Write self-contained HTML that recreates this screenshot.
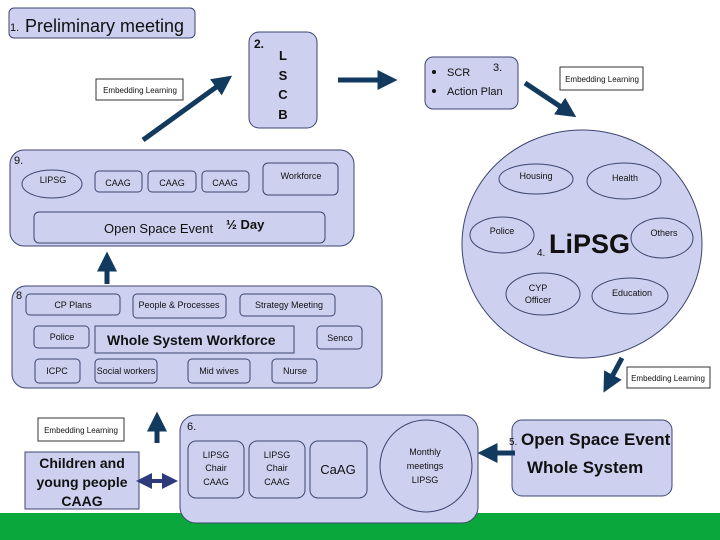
<!DOCTYPE html>
<html><head><style>
body{margin:0;background:#fff}
svg{display:block}
text{font-family:"Liberation Sans",sans-serif;fill:#111}
</style></head><body>
<svg width="720" height="540" viewBox="0 0 720 540" xmlns="http://www.w3.org/2000/svg">
<defs>
<marker id="ah" markerWidth="4" markerHeight="4" refX="2.5" refY="2" orient="auto" markerUnits="strokeWidth"><path d="M0,0 L4,2 L0,4 z" fill="#123a5e"/></marker>
<marker id="ah2" markerWidth="4" markerHeight="4" refX="2.5" refY="2" orient="auto" markerUnits="strokeWidth"><path d="M0,0 L4,2 L0,4 z" fill="#2e3a7a"/></marker>
<marker id="ah2s" markerWidth="4" markerHeight="4" refX="1.5" refY="2" orient="auto-start-reverse" markerUnits="strokeWidth"><path d="M0,0 L4,2 L0,4 z" fill="#2e3a7a"/></marker>
</defs>
<rect x="0" y="513" width="720" height="27" fill="#0aa83c"/>
<g fill="#cdd0ee" stroke="#3c4670" stroke-width="1">
<rect x="9" y="8" width="186" height="30" rx="5"/>
<rect x="249" y="32" width="68" height="96" rx="10"/>
<rect x="425" y="57" width="93" height="52" rx="8"/>
<ellipse cx="582" cy="244" rx="120" ry="114"/>
<rect x="10" y="150" width="344" height="96" rx="14"/>
<rect x="12" y="286" width="370" height="102" rx="14"/>
<rect x="180" y="415" width="298" height="108" rx="16"/>
<rect x="512" y="420" width="160" height="76" rx="10"/>
<rect x="25" y="452" width="114" height="57"/>
</g>
<g fill="none" stroke="#3c4670" stroke-width="1">
<ellipse cx="536" cy="179" rx="37" ry="15"/>
<ellipse cx="624" cy="181" rx="37" ry="18"/>
<ellipse cx="502" cy="235" rx="32" ry="18"/>
<ellipse cx="662" cy="238" rx="31" ry="20"/>
<ellipse cx="543" cy="294" rx="37" ry="21"/>
<ellipse cx="630" cy="296" rx="38" ry="18"/>
<ellipse cx="52" cy="184" rx="30" ry="14"/>
<rect x="95" y="171" width="47" height="21" rx="4"/>
<rect x="148" y="171" width="48" height="21" rx="4"/>
<rect x="202" y="171" width="47" height="21" rx="4"/>
<rect x="263" y="163" width="75" height="32" rx="5"/>
<rect x="34" y="212" width="291" height="31" rx="5"/>
<rect x="26" y="294" width="94" height="21" rx="4"/>
<rect x="133" y="294" width="93" height="24" rx="4"/>
<rect x="240" y="294" width="95" height="22" rx="4"/>
<rect x="34" y="326" width="55" height="22" rx="4"/>
<rect x="95" y="326" width="199" height="27"/>
<rect x="317" y="326" width="45" height="23" rx="4"/>
<rect x="35" y="359" width="45" height="24" rx="4"/>
<rect x="95" y="359" width="62" height="24" rx="4"/>
<rect x="188" y="359" width="62" height="24" rx="4"/>
<rect x="272" y="359" width="45" height="24" rx="4"/>
<rect x="188" y="441" width="56" height="57" rx="8"/>
<rect x="249" y="441" width="56" height="57" rx="8"/>
<rect x="310" y="441" width="57" height="57" rx="8"/>
<circle cx="426" cy="466" r="46"/>
</g>
<g fill="#fff" stroke="#333" stroke-width="1">
<rect x="96" y="79" width="87" height="21"/>
<rect x="560" y="67" width="83" height="23"/>
<rect x="627" y="367" width="83" height="21"/>
<rect x="38" y="418" width="86" height="23"/>
</g>
<g stroke="#123a5e" stroke-width="5" marker-end="url(#ah)">
<line x1="143" y1="140" x2="226" y2="80"/>
<line x1="338" y1="80" x2="390" y2="80"/>
<line x1="525" y1="83" x2="570" y2="113"/>
<line x1="622" y1="358" x2="607" y2="386"/>
<line x1="107" y1="284" x2="107" y2="259"/>
<line x1="157" y1="443" x2="157" y2="419"/>
<line x1="515" y1="453" x2="485" y2="453"/>
</g>
<line x1="146" y1="481" x2="172" y2="481" stroke="#2e3a7a" stroke-width="4" marker-end="url(#ah2)" marker-start="url(#ah2s)"/>
<text x="10" y="31" font-size="11">1.</text>
<text x="25" y="32" font-size="18">Preliminary meeting</text>
<text x="254" y="48" font-size="12" font-weight="bold">2.</text>
<g font-size="13" font-weight="bold" text-anchor="middle"><text x="283" y="60">L</text><text x="283" y="80">S</text><text x="283" y="99">C</text><text x="283" y="119">B</text></g>
<circle cx="434" cy="72" r="2" fill="#111"/><text x="447" y="76" font-size="11">SCR</text>
<circle cx="434" cy="91" r="2" fill="#111"/><text x="447" y="95" font-size="11">Action Plan</text>
<text x="493" y="71" font-size="11">3.</text>
<g font-size="8" text-anchor="middle">
<text x="140" y="93">Embedding Learning</text>
<text x="602" y="82">Embedding Learning</text>
<text x="668" y="381">Embedding Learning</text>
<text x="81" y="433">Embedding Learning</text>
</g>
<g font-size="9" text-anchor="middle">
<text x="536" y="179">Housing</text><text x="625" y="181">Health</text>
<text x="502" y="234">Police</text><text x="664" y="236">Others</text>
<text x="538" y="291">CYP</text><text x="538" y="303">Officer</text>
<text x="632" y="296">Education</text>
<text x="53" y="183">LIPSG</text>
<text x="118" y="186">CAAG</text><text x="172" y="186">CAAG</text><text x="225" y="186">CAAG</text>
<text x="301" y="179">Workforce</text>
<text x="73" y="308">CP Plans</text><text x="179" y="308">People &amp; Processes</text><text x="289" y="308">Strategy Meeting</text>
<text x="62" y="340">Police</text><text x="340" y="341">Senco</text>
<text x="57" y="374">ICPC</text><text x="126" y="374">Social workers</text><text x="219" y="374">Mid wives</text><text x="295" y="374">Nurse</text>
<text x="216" y="458">LIPSG</text><text x="216" y="471">Chair</text><text x="216" y="485">CAAG</text>
<text x="277" y="458">LIPSG</text><text x="277" y="471">Chair</text><text x="277" y="485">CAAG</text>
<text x="425" y="455">Monthly</text><text x="425" y="469">meetings</text><text x="425" y="483">LIPSG</text>
</g>
<text x="537" y="256" font-size="10">4.</text>
<text x="549" y="253" font-size="27" font-weight="bold">LiPSG</text>
<text x="14" y="164" font-size="11">9.</text>
<text x="104" y="233" font-size="13">Open Space Event</text>
<text x="226" y="229" font-size="13" font-weight="bold">½ Day</text>
<text x="16" y="299" font-size="11">8</text>
<text x="107" y="345" font-size="14" font-weight="bold">Whole System Workforce</text>
<text x="187" y="430" font-size="11">6.</text>
<text x="338" y="474" font-size="13" text-anchor="middle">CaAG</text>
<g font-size="14" font-weight="bold" text-anchor="middle"><text x="82" y="468">Children and</text><text x="82" y="487">young people</text><text x="82" y="506">CAAG</text></g>
<text x="509" y="445" font-size="10">5.</text>
<text x="521" y="445" font-size="17" font-weight="bold">Open Space Event</text>
<text x="527" y="473" font-size="17" font-weight="bold">Whole System</text>
</svg>
</body></html>
